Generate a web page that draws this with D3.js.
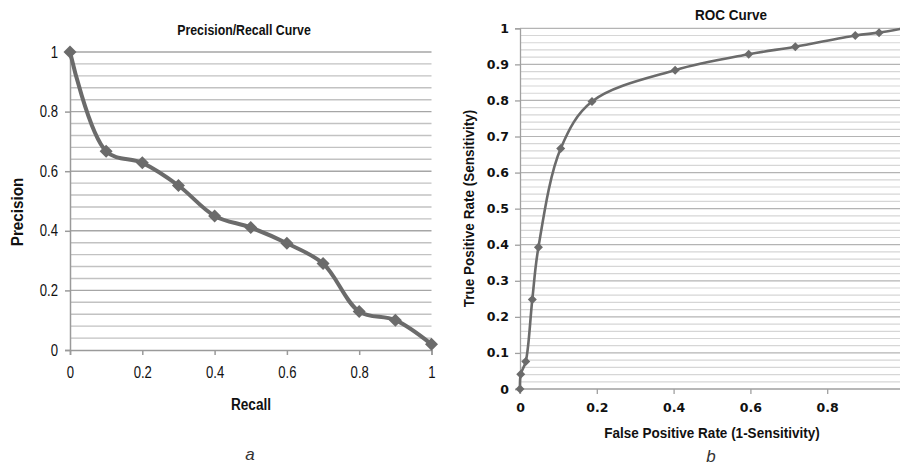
<!DOCTYPE html>
<html>
<head>
<meta charset="utf-8">
<script src="https://cdn.jsdelivr.net/npm/d3@7/dist/d3.min.js"></script>
<style>
  html, body { margin: 0; padding: 0; background: #fff; }
  svg { display: block; }
</style>
</head>
<body>
<svg id="chart" width="900" height="465"></svg>
<script>
// Precision/Recall curve data
const prRecall    = [0, 0.1, 0.2, 0.3, 0.4, 0.5, 0.6, 0.7, 0.8, 0.9, 1];
const prPrecision = [1, 0.667, 0.628, 0.552, 0.45, 0.411, 0.358, 0.29, 0.129, 0.10, 0.019];
const prXTicks    = [0, 0.2, 0.4, 0.6, 0.8, 1];
const prYTicks    = [0, 0.2, 0.4, 0.6, 0.8, 1];

// ROC curve data
const rocFPR   = [0, 0.002, 0.015, 0.032, 0.048, 0.106, 0.1875, 0.404, 0.5955, 0.717, 0.873, 0.935, 1];
const rocTPR   = [0, 0.041, 0.076, 0.248, 0.393, 0.667, 0.797, 0.884, 0.928, 0.949, 0.980, 0.988, 1];
const rocXTicks = [0, 0.2, 0.4, 0.6, 0.8];
const rocYTicks = [0, 0.1, 0.2, 0.3, 0.4, 0.5, 0.6, 0.7, 0.8, 0.9, 1];

const svg = d3.select("#chart");
const sans = "'Liberation Sans', Arial, sans-serif";
const wide = "'DejaVu Sans', Verdana, sans-serif";
const lineCol = "#6b6b6b";

// Squeeze text horizontally to get a condensed face from a regular one
function condense(sel, factor) {
  sel.each(function () {
    const w = this.getComputedTextLength();
    d3.select(this).attr("textLength", (w * factor).toFixed(1)).attr("lengthAdjust", "spacingAndGlyphs");
  });
}
function diamond(r) {
  return `M0,${-r}L${r},0L0,${r}L${-r},0Z`;
}
const fmt = d => d3.format("~g")(d);

// ---------- Panel a: Precision/Recall ----------
{
  const x = d3.scaleLinear().domain([0, 1]).range([70, 431.5]);
  const y = d3.scaleLinear().domain([0, 1]).range([350, 52]);
  const g = svg.append("g");

  // horizontal gridlines every 0.04, majors every 0.2
  const grid = d3.range(1, 26).map(i => +(i * 0.04).toFixed(2));
  g.selectAll("line.grid").data(grid).join("line")
    .attr("x1", x(0)).attr("x2", x(1))
    .attr("y1", d => y(d)).attr("y2", d => y(d))
    .attr("stroke", d => (Math.round(d * 100) % 20 === 0) ? "#a6a6a6" : "#c2c2c2")
    .attr("stroke-width", 1.4);

  const yAxis = g.append("g").attr("transform", `translate(${x(0)},0)`)
    .call(d3.axisLeft(y).tickValues(prYTicks).tickFormat(fmt).tickSize(5).tickPadding(7));
  const xAxis = g.append("g").attr("transform", `translate(0,${y(0)})`)
    .call(d3.axisBottom(x).tickValues(prXTicks).tickFormat(fmt).tickSize(5).tickPadding(12));
  [yAxis, xAxis].forEach(a => {
    a.select(".domain").attr("stroke", "#9a9a9a").attr("stroke-width", 1.5);
    a.selectAll(".tick line").attr("stroke", "#9a9a9a").attr("stroke-width", 1.5);
    a.selectAll("text").attr("fill", "#111").style("font-family", sans).style("font-size", "16px")
      .call(condense, 0.82);
  });

  const pts = prRecall.map((r, i) => [r, prPrecision[i]]);
  g.append("path").datum(pts)
    .attr("fill", "none").attr("stroke", lineCol).attr("stroke-width", 4)
    .attr("stroke-linejoin", "round")
    .attr("d", d3.line().x(d => x(d[0])).y(d => y(d[1])).curve(d3.curveCatmullRom.alpha(0.5)));
  g.selectAll("path.mk").data(pts).join("path").attr("class", "mk")
    .attr("transform", d => `translate(${x(d[0])},${y(d[1])})`)
    .attr("d", diamond(6.5)).attr("fill", lineCol);

  g.append("text").attr("x", 244).attr("y", 35).attr("text-anchor", "middle")
    .style("font-family", sans).style("font-weight", "bold").style("font-size", "14px")
    .attr("fill", "#111").text("Precision/Recall Curve").call(condense, 0.88);
  g.append("text").attr("x", 251).attr("y", 410).attr("text-anchor", "middle")
    .style("font-family", sans).style("font-weight", "bold").style("font-size", "16px")
    .attr("fill", "#111").text("Recall").call(condense, 0.85);
  g.append("text").attr("transform", "translate(23,212) rotate(-90)").attr("text-anchor", "middle")
    .style("font-family", sans).style("font-weight", "bold").style("font-size", "16px")
    .attr("fill", "#111").text("Precision").call(condense, 0.95);
  g.append("text").attr("x", 250).attr("y", 460).attr("text-anchor", "middle")
    .style("font-family", sans).style("font-style", "italic").style("font-size", "17px")
    .attr("fill", "#333").text("a");
}

// ---------- Panel b: ROC ----------
{
  const x = d3.scaleLinear().domain([0, 1]).range([520, 904]);
  const y = d3.scaleLinear().domain([0, 1]).range([389, 28.3]);
  const g = svg.append("g");

  // horizontal gridlines every 0.02, majors every 0.1
  const grid = d3.range(1, 51).map(i => +(i * 0.02).toFixed(2));
  g.selectAll("line.grid").data(grid).join("line")
    .attr("x1", x(0)).attr("x2", 900)
    .attr("y1", d => y(d)).attr("y2", d => y(d))
    .attr("stroke", d => (Math.round(d * 100) % 10 === 0) ? "#b4b4b4" : "#d6d6d6")
    .attr("stroke-width", 1.2);

  const yAxis = g.append("g").attr("transform", `translate(${x(0)},0)`)
    .call(d3.axisLeft(y).tickValues(rocYTicks).tickFormat(fmt).tickSize(5).tickPadding(6));
  const xAxis = g.append("g").attr("transform", `translate(0,${y(0)})`)
    .call(d3.axisBottom(x).tickValues(rocXTicks).tickFormat(fmt).tickSize(5).tickPadding(9));
  xAxis.select(".domain").attr("d", `M${x(0)},5V0H900`);
  [yAxis, xAxis].forEach(a => {
    a.select(".domain").attr("stroke", "#a0a0a0").attr("stroke-width", 1.3);
    a.selectAll(".tick line").attr("stroke", "#a0a0a0").attr("stroke-width", 1.3);
    a.selectAll("text").attr("fill", "#111").style("font-family", wide)
      .style("font-weight", "bold").style("font-size", "12.5px");
  });

  const pts = rocFPR.map((f, i) => [f, rocTPR[i]]);
  g.append("path").datum(pts)
    .attr("fill", "none").attr("stroke", lineCol).attr("stroke-width", 2.6)
    .attr("stroke-linejoin", "round")
    .attr("d", d3.line().x(d => x(d[0])).y(d => y(d[1])).curve(d3.curveCatmullRom.alpha(0.5)));
  g.selectAll("path.mk").data(pts).join("path").attr("class", "mk")
    .attr("transform", d => `translate(${x(d[0])},${y(d[1])})`)
    .attr("d", diamond(4.5)).attr("fill", lineCol);

  g.append("text").attr("x", 731).attr("y", 20).attr("text-anchor", "middle")
    .style("font-family", sans).style("font-weight", "bold").style("font-size", "15px")
    .attr("fill", "#111").text("ROC Curve").call(condense, 0.9);
  g.append("text").attr("x", 712).attr("y", 438).attr("text-anchor", "middle")
    .style("font-family", sans).style("font-weight", "bold").style("font-size", "15px")
    .attr("fill", "#111").text("False Positive Rate (1-Sensitivity)").call(condense, 0.9);
  g.append("text").attr("transform", "translate(474,208.5) rotate(-90)").attr("text-anchor", "middle")
    .style("font-family", sans).style("font-weight", "bold").style("font-size", "15px")
    .attr("fill", "#111").text("True Positive Rate (Sensitivity)").call(condense, 0.9);
  g.append("text").attr("x", 711).attr("y", 462).attr("text-anchor", "middle")
    .style("font-family", sans).style("font-style", "italic").style("font-size", "17px")
    .attr("fill", "#333").text("b");
}
</script>
</body>
</html>
